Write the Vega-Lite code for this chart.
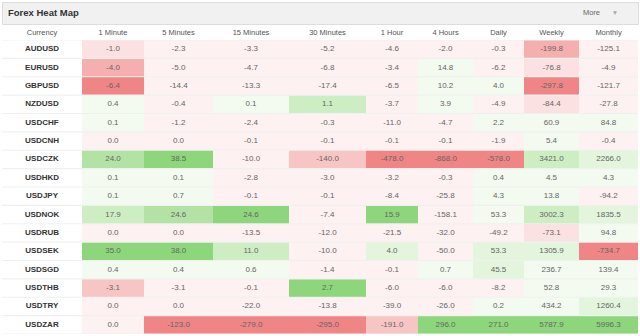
{
"$schema":"https://vega.github.io/schema/vega-lite/v6.json",
"padding":{"left":1,"top":1,"right":3,"bottom":2},
"background":"white",
"spacing":0,
"config":{
 "view":{"stroke":null},
 "font":"Liberation Sans",
 "locale":{"number":{"decimal":".","thousands":",","grouping":[3],"currency":["",""],"minus":"-"}},
 "axis":{"domain":false,"ticks":false,"grid":false,"labelFontSize":7.5,"labelColor":"#555","labelPadding":4,"labelAngle":0,"minExtent":15,"maxExtent":15,"labelFont":"Liberation Sans"},
 "concat":{"spacing":0}
},
"datasets":{"heat":[
{"currency":"AUDUSD","period":"1 Minute","change":-1.0,"heat":-2},{"currency":"AUDUSD","period":"5 Minutes","change":-2.3,"heat":-1},{"currency":"AUDUSD","period":"15 Minutes","change":-3.3,"heat":-1},{"currency":"AUDUSD","period":"30 Minutes","change":-5.2,"heat":-1},{"currency":"AUDUSD","period":"1 Hour","change":-4.6,"heat":-1},{"currency":"AUDUSD","period":"4 Hours","change":-2.0,"heat":-1},{"currency":"AUDUSD","period":"Daily","change":-0.3,"heat":-1},{"currency":"AUDUSD","period":"Weekly","change":-199.8,"heat":-4},{"currency":"AUDUSD","period":"Monthly","change":-125.1,"heat":-1},
{"currency":"EURUSD","period":"1 Minute","change":-4.0,"heat":-4},{"currency":"EURUSD","period":"5 Minutes","change":-5.0,"heat":-1},{"currency":"EURUSD","period":"15 Minutes","change":-4.7,"heat":-1},{"currency":"EURUSD","period":"30 Minutes","change":-6.8,"heat":-1},{"currency":"EURUSD","period":"1 Hour","change":-3.4,"heat":-1},{"currency":"EURUSD","period":"4 Hours","change":14.8,"heat":1},{"currency":"EURUSD","period":"Daily","change":-6.2,"heat":-1},{"currency":"EURUSD","period":"Weekly","change":-76.8,"heat":-2},{"currency":"EURUSD","period":"Monthly","change":-4.9,"heat":-1},
{"currency":"GBPUSD","period":"1 Minute","change":-6.4,"heat":-5},{"currency":"GBPUSD","period":"5 Minutes","change":-14.4,"heat":-1},{"currency":"GBPUSD","period":"15 Minutes","change":-13.3,"heat":-1},{"currency":"GBPUSD","period":"30 Minutes","change":-17.4,"heat":-1},{"currency":"GBPUSD","period":"1 Hour","change":-6.5,"heat":-1},{"currency":"GBPUSD","period":"4 Hours","change":10.2,"heat":1},{"currency":"GBPUSD","period":"Daily","change":4.0,"heat":1},{"currency":"GBPUSD","period":"Weekly","change":-297.8,"heat":-5},{"currency":"GBPUSD","period":"Monthly","change":-121.7,"heat":-1},
{"currency":"NZDUSD","period":"1 Minute","change":0.4,"heat":1},{"currency":"NZDUSD","period":"5 Minutes","change":-0.4,"heat":-1},{"currency":"NZDUSD","period":"15 Minutes","change":0.1,"heat":1},{"currency":"NZDUSD","period":"30 Minutes","change":1.1,"heat":3},{"currency":"NZDUSD","period":"1 Hour","change":-3.7,"heat":-1},{"currency":"NZDUSD","period":"4 Hours","change":3.9,"heat":1},{"currency":"NZDUSD","period":"Daily","change":-4.9,"heat":-1},{"currency":"NZDUSD","period":"Weekly","change":-84.4,"heat":-2},{"currency":"NZDUSD","period":"Monthly","change":-27.8,"heat":-1},
{"currency":"USDCHF","period":"1 Minute","change":0.1,"heat":1},{"currency":"USDCHF","period":"5 Minutes","change":-1.2,"heat":-1},{"currency":"USDCHF","period":"15 Minutes","change":-2.4,"heat":-1},{"currency":"USDCHF","period":"30 Minutes","change":-0.3,"heat":-1},{"currency":"USDCHF","period":"1 Hour","change":-11.0,"heat":-1},{"currency":"USDCHF","period":"4 Hours","change":-4.7,"heat":-1},{"currency":"USDCHF","period":"Daily","change":2.2,"heat":1},{"currency":"USDCHF","period":"Weekly","change":60.9,"heat":1},{"currency":"USDCHF","period":"Monthly","change":84.8,"heat":1},
{"currency":"USDCNH","period":"1 Minute","change":0.0,"heat":-1},{"currency":"USDCNH","period":"5 Minutes","change":0.0,"heat":-1},{"currency":"USDCNH","period":"15 Minutes","change":-0.1,"heat":-1},{"currency":"USDCNH","period":"30 Minutes","change":-0.1,"heat":-1},{"currency":"USDCNH","period":"1 Hour","change":-0.1,"heat":-1},{"currency":"USDCNH","period":"4 Hours","change":-0.1,"heat":-1},{"currency":"USDCNH","period":"Daily","change":-1.9,"heat":-1},{"currency":"USDCNH","period":"Weekly","change":5.4,"heat":1},{"currency":"USDCNH","period":"Monthly","change":-0.4,"heat":-1},
{"currency":"USDCZK","period":"1 Minute","change":24.0,"heat":4},{"currency":"USDCZK","period":"5 Minutes","change":38.5,"heat":5},{"currency":"USDCZK","period":"15 Minutes","change":-10.0,"heat":-1},{"currency":"USDCZK","period":"30 Minutes","change":-140.0,"heat":-3},{"currency":"USDCZK","period":"1 Hour","change":-478.0,"heat":-5},{"currency":"USDCZK","period":"4 Hours","change":-868.0,"heat":-5},{"currency":"USDCZK","period":"Daily","change":-578.0,"heat":-5},{"currency":"USDCZK","period":"Weekly","change":3421.0,"heat":3},{"currency":"USDCZK","period":"Monthly","change":2266.0,"heat":2},
{"currency":"USDHKD","period":"1 Minute","change":0.1,"heat":1},{"currency":"USDHKD","period":"5 Minutes","change":0.1,"heat":1},{"currency":"USDHKD","period":"15 Minutes","change":-2.8,"heat":-1},{"currency":"USDHKD","period":"30 Minutes","change":-3.0,"heat":-1},{"currency":"USDHKD","period":"1 Hour","change":-3.2,"heat":-1},{"currency":"USDHKD","period":"4 Hours","change":-0.3,"heat":-1},{"currency":"USDHKD","period":"Daily","change":0.4,"heat":1},{"currency":"USDHKD","period":"Weekly","change":4.5,"heat":1},{"currency":"USDHKD","period":"Monthly","change":4.3,"heat":1},
{"currency":"USDJPY","period":"1 Minute","change":0.1,"heat":1},{"currency":"USDJPY","period":"5 Minutes","change":0.7,"heat":1},{"currency":"USDJPY","period":"15 Minutes","change":-0.1,"heat":-1},{"currency":"USDJPY","period":"30 Minutes","change":-0.1,"heat":-1},{"currency":"USDJPY","period":"1 Hour","change":-8.4,"heat":-1},{"currency":"USDJPY","period":"4 Hours","change":-25.8,"heat":-1},{"currency":"USDJPY","period":"Daily","change":4.3,"heat":1},{"currency":"USDJPY","period":"Weekly","change":13.8,"heat":1},{"currency":"USDJPY","period":"Monthly","change":-94.2,"heat":-1},
{"currency":"USDNOK","period":"1 Minute","change":17.9,"heat":3},{"currency":"USDNOK","period":"5 Minutes","change":24.6,"heat":4},{"currency":"USDNOK","period":"15 Minutes","change":24.6,"heat":5},{"currency":"USDNOK","period":"30 Minutes","change":-7.4,"heat":-1},{"currency":"USDNOK","period":"1 Hour","change":15.9,"heat":5},{"currency":"USDNOK","period":"4 Hours","change":-158.1,"heat":-1},{"currency":"USDNOK","period":"Daily","change":53.3,"heat":1},{"currency":"USDNOK","period":"Weekly","change":3002.3,"heat":3},{"currency":"USDNOK","period":"Monthly","change":1835.5,"heat":2},
{"currency":"USDRUB","period":"1 Minute","change":0.0,"heat":-1},{"currency":"USDRUB","period":"5 Minutes","change":0.0,"heat":-1},{"currency":"USDRUB","period":"15 Minutes","change":-13.5,"heat":-1},{"currency":"USDRUB","period":"30 Minutes","change":-12.0,"heat":-1},{"currency":"USDRUB","period":"1 Hour","change":-21.5,"heat":-1},{"currency":"USDRUB","period":"4 Hours","change":-32.0,"heat":-1},{"currency":"USDRUB","period":"Daily","change":-49.2,"heat":-1},{"currency":"USDRUB","period":"Weekly","change":-73.1,"heat":-2},{"currency":"USDRUB","period":"Monthly","change":94.8,"heat":1},
{"currency":"USDSEK","period":"1 Minute","change":35.0,"heat":5},{"currency":"USDSEK","period":"5 Minutes","change":38.0,"heat":5},{"currency":"USDSEK","period":"15 Minutes","change":11.0,"heat":3},{"currency":"USDSEK","period":"30 Minutes","change":-10.0,"heat":-1},{"currency":"USDSEK","period":"1 Hour","change":4.0,"heat":2},{"currency":"USDSEK","period":"4 Hours","change":-50.0,"heat":-1},{"currency":"USDSEK","period":"Daily","change":53.3,"heat":2},{"currency":"USDSEK","period":"Weekly","change":1305.9,"heat":2},{"currency":"USDSEK","period":"Monthly","change":-734.7,"heat":-5},
{"currency":"USDSGD","period":"1 Minute","change":0.4,"heat":1},{"currency":"USDSGD","period":"5 Minutes","change":0.4,"heat":1},{"currency":"USDSGD","period":"15 Minutes","change":0.6,"heat":1},{"currency":"USDSGD","period":"30 Minutes","change":-1.4,"heat":-1},{"currency":"USDSGD","period":"1 Hour","change":-0.1,"heat":-1},{"currency":"USDSGD","period":"4 Hours","change":0.7,"heat":1},{"currency":"USDSGD","period":"Daily","change":45.5,"heat":2},{"currency":"USDSGD","period":"Weekly","change":236.7,"heat":1},{"currency":"USDSGD","period":"Monthly","change":139.4,"heat":1},
{"currency":"USDTHB","period":"1 Minute","change":-3.1,"heat":-3},{"currency":"USDTHB","period":"5 Minutes","change":-3.1,"heat":-1},{"currency":"USDTHB","period":"15 Minutes","change":-0.1,"heat":-1},{"currency":"USDTHB","period":"30 Minutes","change":2.7,"heat":5},{"currency":"USDTHB","period":"1 Hour","change":-6.0,"heat":-1},{"currency":"USDTHB","period":"4 Hours","change":-6.0,"heat":-1},{"currency":"USDTHB","period":"Daily","change":-8.2,"heat":-1},{"currency":"USDTHB","period":"Weekly","change":52.8,"heat":1},{"currency":"USDTHB","period":"Monthly","change":29.3,"heat":1},
{"currency":"USDTRY","period":"1 Minute","change":0.0,"heat":-1},{"currency":"USDTRY","period":"5 Minutes","change":0.0,"heat":-1},{"currency":"USDTRY","period":"15 Minutes","change":-22.0,"heat":-1},{"currency":"USDTRY","period":"30 Minutes","change":-13.8,"heat":-1},{"currency":"USDTRY","period":"1 Hour","change":-39.0,"heat":-1},{"currency":"USDTRY","period":"4 Hours","change":-26.0,"heat":-1},{"currency":"USDTRY","period":"Daily","change":0.2,"heat":1},{"currency":"USDTRY","period":"Weekly","change":434.2,"heat":1},{"currency":"USDTRY","period":"Monthly","change":1260.4,"heat":2},
{"currency":"USDZAR","period":"1 Minute","change":0.0,"heat":-1},{"currency":"USDZAR","period":"5 Minutes","change":-123.0,"heat":-5},{"currency":"USDZAR","period":"15 Minutes","change":-279.0,"heat":-5},{"currency":"USDZAR","period":"30 Minutes","change":-295.0,"heat":-5},{"currency":"USDZAR","period":"1 Hour","change":-191.0,"heat":-3},{"currency":"USDZAR","period":"4 Hours","change":296.0,"heat":5},{"currency":"USDZAR","period":"Daily","change":271.0,"heat":5},{"currency":"USDZAR","period":"Weekly","change":5787.9,"heat":5},{"currency":"USDZAR","period":"Monthly","change":5996.3,"heat":5}
],
"banner":[{"label":"Forex Heat Map","menu":"More","arrow":"▼"}]},
"vconcat":[
 {"width":636,"height":22,"data":{"name":"banner"},
  "view":{"fill":"#f1f1f1","stroke":"#dddddd"},
  "encoding":{"x":{"datum":0,"type":"quantitative","scale":{"domain":[0,1]},"axis":null}},
  "layer":[
   {"mark":{"type":"text","align":"left","dx":6,"fontSize":9.5,"fontWeight":"bold","color":"#333333"},"encoding":{"text":{"field":"label"}}},
   {"mark":{"type":"text","align":"right","dx":-38,"fontSize":7.5,"color":"#666666"},"encoding":{"x":{"datum":1,"type":"quantitative"},"text":{"field":"menu"}}},
   {"mark":{"type":"text","align":"center","dx":-23,"fontSize":6.5,"color":"#aaaaaa"},"encoding":{"x":{"datum":1,"type":"quantitative"},"text":{"field":"arrow"}}}
  ]},
 {"hconcat":[
  {"width":80,"height":294,"data":{"name":"heat"},"transform":[{"filter":"datum.period === '1 Minute'"}],
   "view":{"fill":"#f0f0f0"},
   "encoding":{"x":{"datum":"Currency","type":"nominal","title":null,"axis":{"orient":"top"}},"y":{"field":"currency","type":"nominal","sort":null,"axis":null,"scale":{"paddingInner":0.06,"paddingOuter":0.03}}},
   "layer":[{"mark":{"type":"rect","color":"#ffffff"}},{"mark":{"type":"text","fontSize":8,"fontWeight":"bold","color":"#333333"},"encoding":{"text":{"field":"currency"}}}]},
  {"width":62,"height":294,"data":{"name":"heat"},"transform":[{"filter":"datum.period === '1 Minute'"}],"view":{"fill":"#f0f0f0"},
   "encoding":{"x":{"field":"period","type":"nominal","title":null,"axis":{"orient":"top"}},"y":{"field":"currency","type":"nominal","sort":null,"axis":null,"scale":{"paddingInner":0.06,"paddingOuter":0.03}}},
   "layer":[{"mark":"rect","encoding":{"color":{"field":"heat","type":"ordinal","legend":null,"scale":{"domain":[-5,-4,-3,-2,-1,1,2,3,4,5],"range":["#ef8585","#f5afaf","#f8c5c5","#fbe1e1","#fdf1f1","#f3faf0","#e3f5dc","#cdeec3","#b2e3a5","#8dd67b"]}}}},{"mark":{"type":"text","fontSize":8,"color":"#666666"},"encoding":{"text":{"field":"change","type":"quantitative","format":".1f"}}}]},
  {"width":69,"height":294,"data":{"name":"heat"},"transform":[{"filter":"datum.period === '5 Minutes'"}],"view":{"fill":"#f0f0f0"},
   "encoding":{"x":{"field":"period","type":"nominal","title":null,"axis":{"orient":"top"}},"y":{"field":"currency","type":"nominal","sort":null,"axis":null,"scale":{"paddingInner":0.06,"paddingOuter":0.03}}},
   "layer":[{"mark":"rect","encoding":{"color":{"field":"heat","type":"ordinal","legend":null,"scale":{"domain":[-5,-4,-3,-2,-1,1,2,3,4,5],"range":["#ef8585","#f5afaf","#f8c5c5","#fbe1e1","#fdf1f1","#f3faf0","#e3f5dc","#cdeec3","#b2e3a5","#8dd67b"]}}}},{"mark":{"type":"text","fontSize":8,"color":"#666666"},"encoding":{"text":{"field":"change","type":"quantitative","format":".1f"}}}]},
  {"width":76,"height":294,"data":{"name":"heat"},"transform":[{"filter":"datum.period === '15 Minutes'"}],"view":{"fill":"#f0f0f0"},
   "encoding":{"x":{"field":"period","type":"nominal","title":null,"axis":{"orient":"top"}},"y":{"field":"currency","type":"nominal","sort":null,"axis":null,"scale":{"paddingInner":0.06,"paddingOuter":0.03}}},
   "layer":[{"mark":"rect","encoding":{"color":{"field":"heat","type":"ordinal","legend":null,"scale":{"domain":[-5,-4,-3,-2,-1,1,2,3,4,5],"range":["#ef8585","#f5afaf","#f8c5c5","#fbe1e1","#fdf1f1","#f3faf0","#e3f5dc","#cdeec3","#b2e3a5","#8dd67b"]}}}},{"mark":{"type":"text","fontSize":8,"color":"#666666"},"encoding":{"text":{"field":"change","type":"quantitative","format":".1f"}}}]},
  {"width":77,"height":294,"data":{"name":"heat"},"transform":[{"filter":"datum.period === '30 Minutes'"}],"view":{"fill":"#f0f0f0"},
   "encoding":{"x":{"field":"period","type":"nominal","title":null,"axis":{"orient":"top"}},"y":{"field":"currency","type":"nominal","sort":null,"axis":null,"scale":{"paddingInner":0.06,"paddingOuter":0.03}}},
   "layer":[{"mark":"rect","encoding":{"color":{"field":"heat","type":"ordinal","legend":null,"scale":{"domain":[-5,-4,-3,-2,-1,1,2,3,4,5],"range":["#ef8585","#f5afaf","#f8c5c5","#fbe1e1","#fdf1f1","#f3faf0","#e3f5dc","#cdeec3","#b2e3a5","#8dd67b"]}}}},{"mark":{"type":"text","fontSize":8,"color":"#666666"},"encoding":{"text":{"field":"change","type":"quantitative","format":".1f"}}}]},
  {"width":52,"height":294,"data":{"name":"heat"},"transform":[{"filter":"datum.period === '1 Hour'"}],"view":{"fill":"#f0f0f0"},
   "encoding":{"x":{"field":"period","type":"nominal","title":null,"axis":{"orient":"top"}},"y":{"field":"currency","type":"nominal","sort":null,"axis":null,"scale":{"paddingInner":0.06,"paddingOuter":0.03}}},
   "layer":[{"mark":"rect","encoding":{"color":{"field":"heat","type":"ordinal","legend":null,"scale":{"domain":[-5,-4,-3,-2,-1,1,2,3,4,5],"range":["#ef8585","#f5afaf","#f8c5c5","#fbe1e1","#fdf1f1","#f3faf0","#e3f5dc","#cdeec3","#b2e3a5","#8dd67b"]}}}},{"mark":{"type":"text","fontSize":8,"color":"#666666"},"encoding":{"text":{"field":"change","type":"quantitative","format":".1f"}}}]},
  {"width":55,"height":294,"data":{"name":"heat"},"transform":[{"filter":"datum.period === '4 Hours'"}],"view":{"fill":"#f0f0f0"},
   "encoding":{"x":{"field":"period","type":"nominal","title":null,"axis":{"orient":"top"}},"y":{"field":"currency","type":"nominal","sort":null,"axis":null,"scale":{"paddingInner":0.06,"paddingOuter":0.03}}},
   "layer":[{"mark":"rect","encoding":{"color":{"field":"heat","type":"ordinal","legend":null,"scale":{"domain":[-5,-4,-3,-2,-1,1,2,3,4,5],"range":["#ef8585","#f5afaf","#f8c5c5","#fbe1e1","#fdf1f1","#f3faf0","#e3f5dc","#cdeec3","#b2e3a5","#8dd67b"]}}}},{"mark":{"type":"text","fontSize":8,"color":"#666666"},"encoding":{"text":{"field":"change","type":"quantitative","format":".1f"}}}]},
  {"width":51,"height":294,"data":{"name":"heat"},"transform":[{"filter":"datum.period === 'Daily'"}],"view":{"fill":"#f0f0f0"},
   "encoding":{"x":{"field":"period","type":"nominal","title":null,"axis":{"orient":"top"}},"y":{"field":"currency","type":"nominal","sort":null,"axis":null,"scale":{"paddingInner":0.06,"paddingOuter":0.03}}},
   "layer":[{"mark":"rect","encoding":{"color":{"field":"heat","type":"ordinal","legend":null,"scale":{"domain":[-5,-4,-3,-2,-1,1,2,3,4,5],"range":["#ef8585","#f5afaf","#f8c5c5","#fbe1e1","#fdf1f1","#f3faf0","#e3f5dc","#cdeec3","#b2e3a5","#8dd67b"]}}}},{"mark":{"type":"text","fontSize":8,"color":"#666666"},"encoding":{"text":{"field":"change","type":"quantitative","format":".1f"}}}]},
  {"width":55,"height":294,"data":{"name":"heat"},"transform":[{"filter":"datum.period === 'Weekly'"}],"view":{"fill":"#f0f0f0"},
   "encoding":{"x":{"field":"period","type":"nominal","title":null,"axis":{"orient":"top"}},"y":{"field":"currency","type":"nominal","sort":null,"axis":null,"scale":{"paddingInner":0.06,"paddingOuter":0.03}}},
   "layer":[{"mark":"rect","encoding":{"color":{"field":"heat","type":"ordinal","legend":null,"scale":{"domain":[-5,-4,-3,-2,-1,1,2,3,4,5],"range":["#ef8585","#f5afaf","#f8c5c5","#fbe1e1","#fdf1f1","#f3faf0","#e3f5dc","#cdeec3","#b2e3a5","#8dd67b"]}}}},{"mark":{"type":"text","fontSize":8,"color":"#666666"},"encoding":{"text":{"field":"change","type":"quantitative","format":".1f"}}}]},
  {"width":59,"height":294,"data":{"name":"heat"},"transform":[{"filter":"datum.period === 'Monthly'"}],"view":{"fill":"#f0f0f0"},
   "encoding":{"x":{"field":"period","type":"nominal","title":null,"axis":{"orient":"top"}},"y":{"field":"currency","type":"nominal","sort":null,"axis":null,"scale":{"paddingInner":0.06,"paddingOuter":0.03}}},
   "layer":[{"mark":"rect","encoding":{"color":{"field":"heat","type":"ordinal","legend":null,"scale":{"domain":[-5,-4,-3,-2,-1,1,2,3,4,5],"range":["#ef8585","#f5afaf","#f8c5c5","#fbe1e1","#fdf1f1","#f3faf0","#e3f5dc","#cdeec3","#b2e3a5","#8dd67b"]}}}},{"mark":{"type":"text","fontSize":8,"color":"#666666"},"encoding":{"text":{"field":"change","type":"quantitative","format":".1f"}}}]}
 ],"spacing":0,"bounds":"flush"}
]
}
